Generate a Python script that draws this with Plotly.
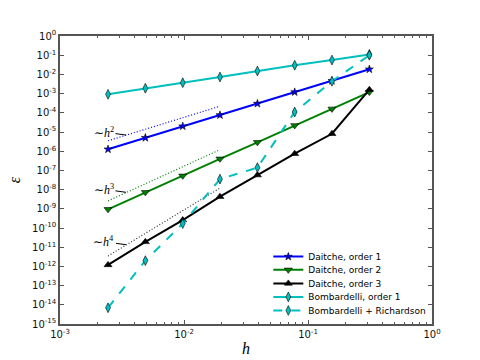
import plotly.graph_objects as go

h = [0.00244, 0.00488, 0.00977, 0.0195, 0.0391, 0.0781, 0.156, 0.3125]

daitche1 = [1.26e-6, 5.0e-6, 2.0e-5, 7.6e-5, 3.0e-4, 1.2e-3, 4.6e-3, 1.85e-2]
daitche2 = [9.4e-10, 7.2e-9, 5.2e-8, 4.0e-7, 2.9e-6, 2.2e-5, 1.6e-4, 1.2e-3]
daitche3 = [1.2e-12, 1.9e-11, 2.6e-10, 4.3e-9, 5.7e-8, 7.4e-7, 8.1e-6, 1.6e-3]
bomb1 = [9.2e-4, 1.9e-3, 3.7e-3, 7.3e-3, 1.5e-2, 3.0e-2, 5.6e-2, 1.1e-1]
bomb_rich = [7.0e-15, 2.0e-12, 1.7e-10, 3.5e-8, 1.4e-7, 1.1e-4, 4.4e-3, 1.0e-1]

ref_h = [0.00244, 0.0195]
ref_h2 = [3.5e-6, 2.2e-4]
ref_h3 = [2.6e-9, 1.2e-6]
ref_h4 = [3.5e-12, 1.2e-8]

labels = ["Daitche, order 1", "Daitche, order 2", "Daitche, order 3",
          "Bombardelli, order 1", "Bombardelli + Richardson"]

x_tickvals = [1e-3, 1e-2, 1e-1, 1e0]
x_ticktext = ["10<sup>-3</sup>", "10<sup>-2</sup>", "10<sup>-1</sup>", "10<sup>0</sup>"]
y_exps = list(range(0, -16, -1))

fig = go.Figure()

# reference slope lines
for ry, col in [(ref_h2, "#0000ff"), (ref_h3, "#008000"), (ref_h4, "#333333")]:
    fig.add_trace(go.Scatter(x=ref_h, y=ry, mode="lines", showlegend=False,
                             line=dict(color=col, width=1.2, dash="1px,2px"),
                             hoverinfo="skip"))

series = [
    (daitche1, "#0000ff", "star", "solid", 6),
    (daitche2, "#008000", "triangle-down", "solid", 7),
    (daitche3, "#000000", "triangle-up", "solid", 7),
    (bomb1, "#00bfbf", "diamond-tall", "solid", 7),
    (bomb_rich, "#00bfbf", "diamond-tall", "dash", 7),
]
legend_names = ["legend", "legend2", "legend3", "legend4", "legend5"]
legend_y = [0.234, 0.188, 0.141, 0.094, 0.047]

for (ys, col, sym, dash, ms), name, lg in zip(series, labels, legend_names):
    fig.add_trace(go.Scatter(
        x=h, y=ys, mode="lines+markers", name=name, legend=lg,
        line=dict(color=col, width=2, dash=dash),
        marker=dict(symbol=sym, size=ms, color=col,
                    line=dict(color="#000000", width=0.6)),
    ))

serif = "Liberation Serif"
ann_style = dict(showarrow=True, arrowhead=0, arrowwidth=1, arrowcolor="#000000",
                 font=dict(family=serif, size=12, color="#000000"),
                 xref="x", yref="y")
fig.add_annotation(x=-2.468, y=-5.16, ax=-22, ay=-3, text="∼<i>h</i><sup>2</sup>", **ann_style)
fig.add_annotation(x=-2.468, y=-8.14, ax=-22, ay=-3, text="∼<i>h</i><sup>3</sup>", **ann_style)
fig.add_annotation(x=-2.468, y=-10.87, ax=-22, ay=-3, text="∼<i>h</i><sup>4</sup>", **ann_style)

axis_common = dict(type="log", showgrid=False, zeroline=False, showline=True,
                   linecolor="#555555", linewidth=1.5, mirror="allticks",
                   ticks="inside", ticklen=4, tickcolor="#555555", automargin=False,
                   tickfont=dict(family="DejaVu Sans", size=10, color="#111111"))

fig.update_xaxes(range=[-3, 0], tickmode="array", tickvals=x_tickvals, ticktext=x_ticktext,
                 minor=dict(ticks="inside", ticklen=2, tickcolor="#555555",
                            tickmode="array",
                            tickvals=[m * 10 ** e for e in (-3, -2, -1) for m in range(2, 10)]),
                 title=dict(text="<i>h</i>", font=dict(family=serif, size=16, color="#000000"),
                            standoff=4),
                 **axis_common)
fig.update_yaxes(range=[-15, 0], tickmode="array",
                 tickvals=[10.0 ** e for e in y_exps],
                 ticktext=[f"10<sup>{e}</sup>" for e in y_exps],
                 title=dict(text="<i>ε</i>", font=dict(family=serif, size=16, color="#000000"),
                            standoff=7),
                 **axis_common)

legend_common = dict(x=0.56, xanchor="left", yanchor="middle",
                     bgcolor="rgba(0,0,0,0)", borderwidth=0, itemwidth=30,
                     font=dict(family="DejaVu Sans", size=9, color="#000000"))
layout_legends = {lg: dict(y=yv, **legend_common) for lg, yv in zip(legend_names, legend_y)}

fig.update_layout(
    width=480, height=360,
    margin=dict(l=60, r=48, t=36, b=36),
    paper_bgcolor="#ffffff", plot_bgcolor="#ffffff",
    **layout_legends,
)

fig.write_html("out.html", config={"displayModeBar": False},
               post_script="document.body.style.margin='0px';")
